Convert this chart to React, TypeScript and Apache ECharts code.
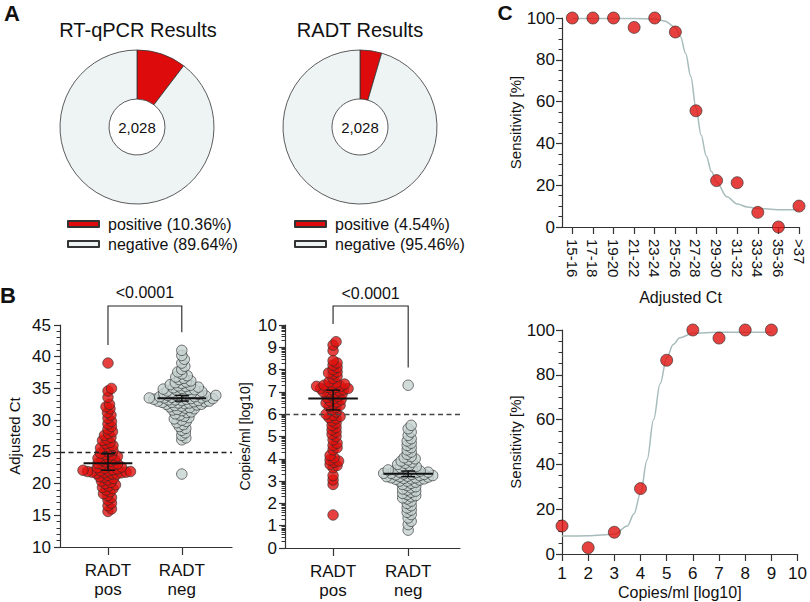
import React, { useEffect, useRef } from "react";
import * as echarts from "echarts";

const FONT = '"Liberation Sans", Arial, Helvetica, sans-serif';
const INK = "#111";
const AX = "#333";
const RED = "#e0120e";
const GREY_DOT = "#c6d2d0";
const PIE_GREY = "#eef3f3";
const CURVE = "#a7bcbb";

// ---------- Panel A ----------
const pieTitles = ["RT-qPCR Results", "RADT Results"];
const pieTotal = 2028;
const shareNames = ["positive", "negative"];
const pcrShares = [10.36, 89.64];
const radtShares = [4.54, 95.46];

// ---------- Panel B ----------
const groupLabels = ["RADT\npos", "RADT\nneg"];
const pValue = "<0.0001";
const ctPos = [
  39.0,
  35.0, 34.6, 33.6,
  32.5, 32.1, 31.8, 31.2, 30.8,
  30.3, 29.8, 29.4, 29.0, 28.6, 28.2,
  27.9, 27.6, 27.3, 27.0, 26.8, 26.5, 26.3, 26.0, 25.8, 25.6,
  25.4, 25.2, 25.0, 24.8, 24.6, 24.5, 24.3, 24.1, 24.0, 23.8, 23.7, 23.5, 23.4, 23.2, 23.1,
  23.0, 22.9, 22.8, 22.6, 22.5, 22.4, 22.3, 22.2, 22.1, 22.0, 22.0, 21.9, 21.9, 21.8, 21.8, 21.7, 21.7, 21.6, 21.5, 21.5,
  21.3, 21.1, 21.0, 20.8, 20.6, 20.4, 20.2, 20.0, 19.8, 19.6, 19.4, 19.2, 19.0,
  18.7, 18.4, 18.1, 17.8, 17.4, 16.9, 16.5, 16.0, 15.6,
];
const ctNeg = [
  41.0, 40.2, 39.6, 39.0, 38.5, 38.0, 37.6, 37.3, 37.0, 36.8, 36.6, 36.4, 36.2, 36.0, 35.9, 35.8, 35.6, 35.5,
  35.4, 35.3, 35.2, 35.1, 35.0, 34.9, 34.8, 34.8, 34.7, 34.6, 34.5, 34.5, 34.4, 34.3, 34.3, 34.2, 34.1, 34.0,
  34.0, 33.9, 33.9, 33.8, 33.8, 33.7, 33.7, 33.6, 33.6, 33.5, 33.5, 33.5, 33.4, 33.4, 33.3, 33.3, 33.2, 33.2,
  33.1, 33.1, 33.0, 33.0, 32.9, 32.9, 32.8, 32.8, 32.7, 32.7, 32.6, 32.5, 32.5, 32.4, 32.3, 32.2, 32.1, 32.0,
  31.9, 31.8, 31.7, 31.6, 31.5, 31.3, 31.2, 31.0, 30.8, 30.6, 30.4, 30.2, 30.0, 29.8, 29.6, 29.3, 29.0, 28.7,
  28.4, 28.0, 27.6, 27.2, 26.9, 21.5,
];
const copiesPos = [
  9.25, 9.1, 8.85,
  8.4, 8.3, 8.2, 8.1, 8.0, 7.9, 7.85, 7.8, 7.7, 7.6,
  7.45, 7.4, 7.35, 7.3, 7.3, 7.25, 7.25, 7.2, 7.2, 7.15, 7.15, 7.1, 7.1, 7.05, 7.0, 7.0,
  6.95, 6.9, 6.85, 6.8, 6.75, 6.7, 6.65, 6.6, 6.55, 6.5, 6.45, 6.4, 6.35, 6.3, 6.2, 6.1,
  6.0, 5.95, 5.9, 5.85, 5.8, 5.7, 5.6, 5.5, 5.4, 5.3, 5.2, 5.1,
  5.0, 4.85, 4.7, 4.6, 4.5, 4.4,
  4.15, 4.05, 3.95, 3.9, 3.85, 3.75, 3.7, 3.6,
  3.25, 3.05, 2.85,
  1.48,
];
const copiesNeg = [
  7.3,
  5.5, 5.35, 5.2, 5.05, 4.9, 4.8, 4.7, 4.6, 4.5, 4.4, 4.3, 4.2, 4.1, 4.05, 4.0, 3.95, 3.9, 3.85, 3.8,
  3.75, 3.7, 3.65, 3.6, 3.6, 3.55, 3.5, 3.5, 3.45, 3.45, 3.4, 3.4, 3.38, 3.35, 3.35, 3.32, 3.3, 3.3,
  3.28, 3.25, 3.25, 3.22, 3.2, 3.2, 3.18, 3.15, 3.15, 3.12, 3.1, 3.1, 3.08, 3.05, 3.0, 3.0, 2.95, 2.9,
  2.85, 2.8, 2.75, 2.7, 2.65, 2.6, 2.55, 2.5, 2.45, 2.4, 2.35, 2.3, 2.25, 2.2, 2.1, 2.0, 1.9, 1.8, 1.7,
  1.6, 1.5, 1.35, 1.2, 1.05, 0.8,
];
// [group, mean, lower, upper]
const ctSummary = [
  [1, 23.2, 22.1, 24.7],
  [2, 33.45, 33.0, 33.9],
];
const copiesSummary = [
  [1, 6.7, 6.19, 7.08],
  [2, 3.33, 3.2, 3.45],
];
// [x1, x2, top, leftEnd, rightEnd]
const ctBracket = [[1, 2, 48.0, 41.85, 43.85]];
const copiesBracket = [[1, 2, 10.85, 10.04, 8.09]];
const ctCutoff = 25;
const copiesCutoff = 6;

// ---------- Panel C ----------
const ctBins = ["15-16", "17-18", "19-20", "21-22", "23-24", "25-26", "27-28", "29-30", "31-32", "33-34", "35-36", ">37"];
const ctSens = [100, 100, 100, 95.5, 100, 93.3, 55.6, 22.2, 21.2, 7.0, 0, 10.0];
const ctFitX = [1, 2, 3, 4, 5, 5.5, 6, 6.25, 6.5, 6.75, 7, 7.25, 7.5, 7.75, 8, 8.5, 9, 9.5, 10, 11, 12];
const ctFitY = [99.8, 99.8, 99.8, 99.8, 99.5, 98.5, 95.5, 91, 83, 72, 57, 44, 34, 26.5, 21.5, 14.5, 11, 9.6, 8.9, 8.3, 8.2];
const copiesX = [1, 2, 3, 4, 5, 6, 7, 8, 9];
const copiesSens = [12.5, 2.8, 9.7, 29.2, 86.5, 100, 96.4, 100, 100];
const copiesFitX = [1, 2, 3, 3.5, 3.75, 4, 4.25, 4.5, 4.75, 5, 5.25, 5.5, 6, 7, 8, 9];
const copiesFitY = [8, 8.1, 8.8, 12.5, 18, 27, 42, 60, 76, 87.5, 93.5, 96.5, 98.6, 99, 99, 99];

// ---------- layout ----------
const G_BL = { left: 60, top: 325, width: 172, height: 222 };
const G_BR = { left: 285, top: 325, width: 175, height: 223 };
const G_CT = { left: 562, top: 18, width: 237, height: 209 };
const G_CB = { left: 562, top: 330, width: 238, height: 224 };
const BL_X = [0.35, 2.68];
const BR_X = [0.36, 2.69];

function swarm(values: number[], center: number, pxX: number, pxY: number, d: number) {
  const placed: number[][] = [];
  const res: number[][] = [];
  const order = values.slice().sort((a, b) => a - b);
  for (const v of order) {
    const y = v * pxY;
    let off = 0;
    for (let k = 0; k < 600; k++) {
      const c = (k === 0 ? 0 : k % 2 === 1 ? (k + 1) / 2 : -k / 2) * 0.5;
      let ok = true;
      for (const p of placed) {
        const dx = p[0] - c;
        const dy = p[1] - y;
        if (dx * dx + dy * dy < d * d) {
          ok = false;
          break;
        }
      }
      if (ok) {
        off = c;
        break;
      }
    }
    placed.push([off, y]);
    res.push([center + off / pxX, v]);
  }
  return res;
}

const lineStyle = { color: AX, width: 1.2 };
const tickLabel = { color: INK, fontSize: 17, fontFamily: FONT };

function summaryRender(params: any, api: any) {
  const x = api.value(0), m = api.value(1), lo = api.value(2), hi = api.value(3);
  const a = api.coord([x - 0.33, m]);
  const b = api.coord([x + 0.33, m]);
  const t = api.coord([x, hi]);
  const u = api.coord([x, lo]);
  const cw = 7;
  const st = { stroke: "#111", lineWidth: 1.5 };
  return {
    type: "group",
    children: [
      { type: "line", shape: { x1: a[0], y1: a[1], x2: b[0], y2: b[1] }, style: { stroke: "#111", lineWidth: 2 } },
      { type: "line", shape: { x1: t[0], y1: t[1], x2: u[0], y2: u[1] }, style: st },
      { type: "line", shape: { x1: t[0] - cw, y1: t[1], x2: t[0] + cw, y2: t[1] }, style: st },
      { type: "line", shape: { x1: u[0] - cw, y1: u[1], x2: u[0] + cw, y2: u[1] }, style: st },
    ],
  };
}

function bracketRender(params: any, api: any) {
  const x1 = api.value(0), x2 = api.value(1), top = api.value(2), l = api.value(3), r = api.value(4);
  const p1 = api.coord([x1, l]);
  const p2 = api.coord([x1, top]);
  const p3 = api.coord([x2, top]);
  const p4 = api.coord([x2, r]);
  return {
    type: "group",
    children: [
      { type: "polyline", shape: { points: [p1, p2, p3, p4] }, style: { stroke: "#222", lineWidth: 1.1, fill: null } },
      {
        type: "text",
        x: (p2[0] + p3[0]) / 2,
        y: p2[1] - 5,
        style: {
          text: pValue, fill: INK, fontSize: 16, fontFamily: FONT,
          align: "center", verticalAlign: "bottom", textAlign: "center", textVerticalAlign: "bottom",
        },
      },
    ],
  };
}

function gtext(text: string, x: number, y: number, size: number, bold = false) {
  return {
    type: "text", x, y, silent: true,
    style: {
      text, fill: INK, fontSize: size, fontWeight: bold ? "bold" : "normal", fontFamily: FONT,
      align: "center", verticalAlign: "middle", textAlign: "center", textVerticalAlign: "middle",
    },
  };
}

function pieData(shares: number[]) {
  return shares.map((s, i) => ({
    name: `${shareNames[i]} (${s.toFixed(2)}%)`,
    value: s,
    itemStyle: { color: i === 0 ? "#dd0b0b" : PIE_GREY, borderColor: "#333", borderWidth: 0.8 },
  }));
}

function valueYAxis(gridIndex: number, min: number, max: number, interval: number, minorSplit: number, name: string, nameGap: number, nameSize: number, labelMargin: number) {
  return {
    type: "value", gridIndex, min, max, interval,
    name, nameLocation: "middle", nameGap, nameRotate: 90,
    nameTextStyle: { color: INK, fontSize: nameSize, fontFamily: FONT },
    axisLine: { show: true, lineStyle },
    axisTick: { show: true, length: 6, lineStyle },
    minorTick: { show: minorSplit > 0, splitNumber: minorSplit || 5, length: 3.5, lineStyle: { color: AX, width: 1 } },
    axisLabel: { ...tickLabel, margin: labelMargin },
    splitLine: { show: false },
  };
}

export default function App() {
  const ref = useRef<HTMLDivElement>(null);
  useEffect(() => {
    if (!ref.current) return;
    const chart = echarts.init(ref.current, null, { renderer: "svg" });

    const blPxX = G_BL.width / (BL_X[1] - BL_X[0]);
    const blPxY = G_BL.height / 35;
    const brPxX = G_BR.width / (BR_X[1] - BR_X[0]);
    const brPxY = G_BR.height / 10;
    const D = 4.3;

    const logTicks: number[] = [];
    for (let dec = 0; dec < 10; dec++) for (let m = 2; m <= 9; m++) logTicks.push(dec + Math.log10(m));

    const dot = (color: string) => ({ color, borderColor: "#2a2a2a", borderWidth: 0.8 });

    const option: any = {
      animation: false,
      textStyle: { fontFamily: FONT },
      graphic: [
        gtext("A", 12, 13, 22, true),
        gtext("B", 8, 295, 22, true),
        gtext("C", 505, 12, 21, true),
        gtext(pieTitles[0], 138, 30, 20),
        gtext(pieTitles[1], 360, 30, 20),
        gtext(pieTotal.toLocaleString("en-US"), 137, 127, 15),
        gtext(pieTotal.toLocaleString("en-US"), 360, 127, 15),
      ],
      legend: [
        {
          data: pieData(pcrShares).map((d) => d.name), left: 62, top: 211, orient: "vertical",
          itemWidth: 31, itemHeight: 6, itemGap: 4, icon: "rect", selectedMode: false,
          textStyle: { color: INK, fontSize: 16, fontFamily: FONT, padding: [0, 0, 0, 4] },
        },
        {
          data: pieData(radtShares).map((d) => d.name), left: 289, top: 211, orient: "vertical",
          itemWidth: 31, itemHeight: 6, itemGap: 4, icon: "rect", selectedMode: false,
          textStyle: { color: INK, fontSize: 16, fontFamily: FONT, padding: [0, 0, 0, 4] },
        },
      ],
      grid: [G_BL, G_BR, G_CT, G_CB].map((g) => ({ ...g, containLabel: false })),
      xAxis: [
        {
          type: "value", gridIndex: 0, min: BL_X[0], max: BL_X[1],
          axisLine: { lineStyle }, splitLine: { show: false },
          axisTick: { length: 8, lineStyle, customValues: [1, 2] },
          axisLabel: { ...tickLabel, margin: 14, lineHeight: 19, customValues: [1, 2], formatter: (v: number) => groupLabels[Math.round(v) - 1] || "" },
        },
        {
          type: "value", gridIndex: 1, min: BR_X[0], max: BR_X[1],
          axisLine: { lineStyle }, splitLine: { show: false },
          axisTick: { length: 8, lineStyle, customValues: [1, 2] },
          axisLabel: { ...tickLabel, margin: 14, lineHeight: 19, customValues: [1, 2], formatter: (v: number) => groupLabels[Math.round(v) - 1] || "" },
        },
        {
          type: "value", gridIndex: 2, min: 0.5, max: 12,
          name: "Adjusted Ct", nameLocation: "middle", nameGap: 62,
          nameTextStyle: { color: INK, fontSize: 16, fontFamily: FONT },
          axisLine: { lineStyle }, splitLine: { show: false },
          axisTick: { length: 7, lineStyle, customValues: ctBins.map((_, i) => i + 1) },
          axisLabel: {
            ...tickLabel, fontSize: 15, rotate: -90, margin: 12,
            customValues: ctBins.map((_, i) => i + 1),
            formatter: (v: number) => ctBins[Math.round(v) - 1] || "",
          },
        },
        {
          type: "value", gridIndex: 3, min: 1, max: 10, interval: 1,
          name: "Copies/ml [log10]", nameLocation: "middle", nameGap: 30,
          nameTextStyle: { color: INK, fontSize: 16, fontFamily: FONT },
          axisLine: { lineStyle }, splitLine: { show: false },
          axisTick: { length: 7, lineStyle },
          axisLabel: { ...tickLabel, margin: 11 },
        },
      ],
      yAxis: [
        valueYAxis(0, 10, 45, 5, 5, "Adjusted Ct", 38, 15, 9),
        valueYAxis(1, 0, 10, 1, 0, "Copies/ml [log10]", 33, 14, 8),
        {
          type: "value", gridIndex: 1, min: 0, max: 10, position: "left",
          axisLine: { show: false }, axisLabel: { show: false }, splitLine: { show: false },
          axisTick: { show: true, length: 3.5, lineStyle: { color: AX, width: 1 }, customValues: logTicks },
        },
        valueYAxis(2, 0, 100, 20, 4, "Sensitivity [%]", 38, 15, 7),
        valueYAxis(3, 0, 100, 20, 4, "Sensitivity [%]", 38, 15, 7),
      ],
      series: [
        {
          type: "pie", center: [137, 127], radius: [28, 77], startAngle: 90, clockwise: true,
          silent: true, label: { show: false }, labelLine: { show: false }, data: pieData(pcrShares),
        },
        {
          type: "pie", center: [360, 127], radius: [28, 77], startAngle: 90, clockwise: true,
          silent: true, label: { show: false }, labelLine: { show: false }, data: pieData(radtShares),
        },
        // dashed cut-offs
        {
          type: "scatter", xAxisIndex: 0, yAxisIndex: 0, data: [], z: 1, silent: true,
          markLine: { silent: true, symbol: ["none", "none"], label: { show: false }, lineStyle: { color: "#222", width: 1.3, type: [5, 3.5] }, data: [{ yAxis: ctCutoff }] },
        },
        {
          type: "scatter", xAxisIndex: 1, yAxisIndex: 1, data: [], z: 1, silent: true,
          markLine: { silent: true, symbol: ["none", "none"], label: { show: false }, lineStyle: { color: "#444", width: 1.3, type: [5, 3.5] }, data: [{ yAxis: copiesCutoff }] },
        },
        { type: "scatter", xAxisIndex: 0, yAxisIndex: 0, z: 2, symbolSize: 10.5, itemStyle: dot(RED), data: swarm(ctPos, 1, blPxX, blPxY, D) },
        { type: "scatter", xAxisIndex: 0, yAxisIndex: 0, z: 2, symbolSize: 10.5, itemStyle: dot(GREY_DOT), data: swarm(ctNeg, 2, blPxX, blPxY, D) },
        { type: "scatter", xAxisIndex: 1, yAxisIndex: 1, z: 2, symbolSize: 10.5, itemStyle: dot(RED), data: swarm(copiesPos, 1, brPxX, brPxY, D) },
        { type: "scatter", xAxisIndex: 1, yAxisIndex: 1, z: 2, symbolSize: 10.5, itemStyle: dot(GREY_DOT), data: swarm(copiesNeg, 2, brPxX, brPxY, D) },
        { type: "custom", xAxisIndex: 0, yAxisIndex: 0, z: 3, renderItem: summaryRender, data: ctSummary, encode: { x: 0, y: [1, 2, 3] } },
        { type: "custom", xAxisIndex: 1, yAxisIndex: 1, z: 3, renderItem: summaryRender, data: copiesSummary, encode: { x: 0, y: [1, 2, 3] } },
        { type: "custom", xAxisIndex: 0, yAxisIndex: 0, z: 3, clip: false, renderItem: bracketRender, data: ctBracket, encode: { x: [0, 1], y: [3, 4] } },
        { type: "custom", xAxisIndex: 1, yAxisIndex: 1, z: 3, clip: false, renderItem: bracketRender, data: copiesBracket, encode: { x: [0, 1], y: [3, 4] } },
        // panel C
        {
          type: "line", xAxisIndex: 2, yAxisIndex: 3, z: 1, showSymbol: false, smooth: 0.35, smoothMonotone: "x",
          lineStyle: { color: CURVE, width: 1.5 }, data: ctFitX.map((x, i) => [x, ctFitY[i]]), silent: true,
        },
        { type: "scatter", xAxisIndex: 2, yAxisIndex: 3, z: 2, symbolSize: 12, itemStyle: dot(RED), data: ctSens.map((v, i) => [i + 1, v]) },
        {
          type: "line", xAxisIndex: 3, yAxisIndex: 4, z: 1, showSymbol: false, smooth: 0.35, smoothMonotone: "x",
          lineStyle: { color: CURVE, width: 1.5 }, data: copiesFitX.map((x, i) => [x, copiesFitY[i]]), silent: true,
        },
        { type: "scatter", xAxisIndex: 3, yAxisIndex: 4, z: 2, symbolSize: 12, itemStyle: dot(RED), data: copiesX.map((x, i) => [x, copiesSens[i]]) },
      ],
    };
    chart.setOption(option);
    return () => chart.dispose();
  }, []);
  return <div ref={ref} style={{ position: "absolute", left: 0, top: 0, width: 810, height: 602, background: "#fff" }} />;
}
